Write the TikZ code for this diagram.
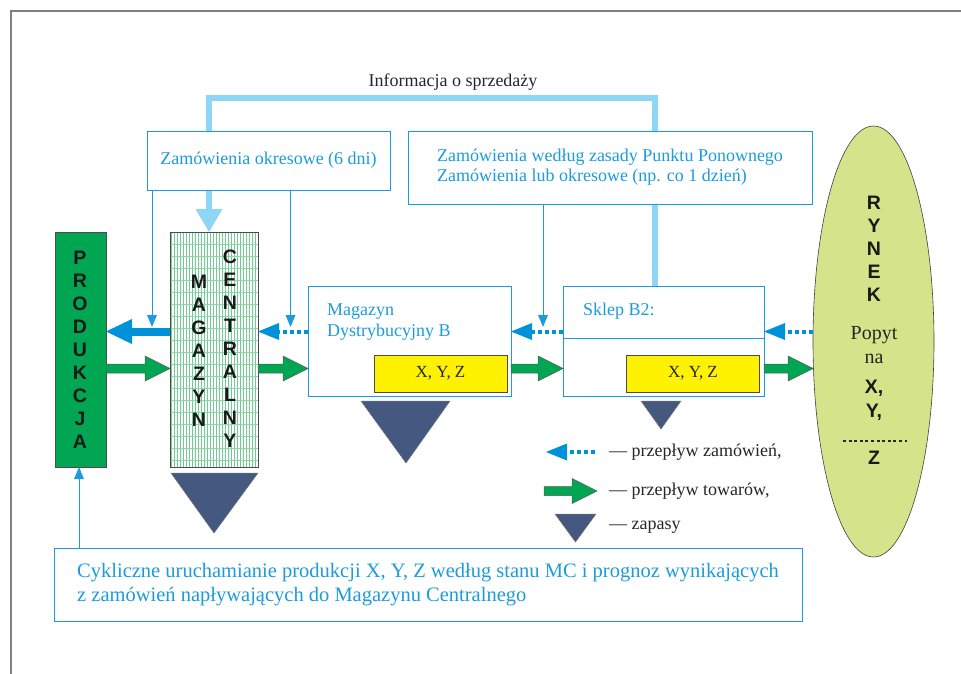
\documentclass[tikz,border=0pt]{standalone}
\usepackage{fontspec}
\setmainfont{Liberation Serif}
\setsansfont{Liberation Sans}
\usetikzlibrary{arrows.meta,calc,shapes.geometric}

\definecolor{infoblue}{RGB}{142,214,246}
\definecolor{boxblue}{RGB}{28,156,220}
\definecolor{ordblue}{RGB}{0,146,216}
\definecolor{goodgreen}{RGB}{0,166,81}
\definecolor{stockblue}{RGB}{68,88,128}
\definecolor{xyzyellow}{RGB}{255,242,0}
\definecolor{rynekgreen}{RGB}{213,228,138}
\definecolor{patgreen}{RGB}{110,205,145}

\begin{document}
\begin{tikzpicture}[
  x=10pt, y=-10pt,
  frame/.style={line width=1.3pt, draw=black!50},
  infobox/.style={draw=boxblue, line width=0.8pt, fill=white, inner sep=0pt, outer sep=0pt},
  boxtext/.style={text=boxblue, font=\fontsize{18}{21}\selectfont},
  label/.style={text=black!85, font=\fontsize{18}{21}\selectfont},
  stack/.style={align=center, font=\sffamily\bfseries\fontsize{19.5}{23}\selectfont, text=black!90},
  xyz/.style={draw=black!70, line width=0.6pt, fill=xyzyellow, inner sep=0pt, outer sep=0pt,
    minimum width=133pt, minimum height=37pt, font=\fontsize{17}{20}\selectfont, text=black!85},
  stock/.style={fill=stockblue, draw=black!55, line width=0.5pt},
  info/.style={line width=5.5pt, draw=infoblue, -{Triangle[length=23pt,width=27pt,line width=0pt]}},
  orderline/.style={line width=0.8pt, draw=boxblue, -{Triangle[length=12pt,width=10pt,line width=0pt]}},
  orderbig/.style={line width=8pt, draw=ordblue, -{Triangle[length=26pt,width=25pt,line width=0pt]}},
  orders/.style={line width=4pt, draw=ordblue, dash pattern=on 4pt off 3pt,
    -{Triangle[length=21pt,width=17pt,line width=0pt]}},
  goods/.style={draw=black!65, fill=goodgreen, line width=0.5pt,
    to path={let \p1=(\tikztostart), \p2=(\tikztotarget) in
      (\x1,\y1+4.5pt) -- (\x2-25pt,\y1+4.5pt) -- (\x2-25pt,\y1+12.5pt) -- (\x2,\y1)
      -- (\x2-25pt,\y1-12.5pt) -- (\x2-25pt,\y1-4.5pt) -- (\x1,\y1-4.5pt) -- cycle}},
]
\useasboundingbox (0,0) rectangle (96.1,67.4);

% Frame
\draw[frame] (96.1,1.1) -- (1.1,1.1) -- (1.1,67.4);

% Rows and turning points
\coordinate (infoL) at (20.9,9.8);
\coordinate (infoR) at (65.5,9.8);
\coordinate (ordrow) at (0,33.15);
\coordinate (goodrow) at (0,36.85);
\coordinate (o1) at (15.2,32.7);
\coordinate (o2) at (29.05,32.7);
\coordinate (o3) at (54.3,32.7);
\coordinate (b1) at (7.9,0);

% Main blocks
\node[draw=black!70, line width=0.6pt, fill=goodgreen, inner sep=0pt, outer sep=0pt,
  minimum width=51pt, minimum height=235pt] (prod) at (8.05,34.95) {};
\node[draw=black!70, line width=0.6pt, fill=white, inner sep=0pt, outer sep=0pt,
  minimum width=88pt, minimum height=235pt,
  path picture={
    \foreach \i in {0,...,29}
      \draw[patgreen, line width=1pt] ([xshift=1.5pt+\i*3pt]path picture bounding box.north west)
        -- ([xshift=1.5pt+\i*3pt]path picture bounding box.south west);
    \foreach \j in {1,...,19}
      \draw[patgreen!80, line width=0.5pt] ([yshift=-\j*12pt]path picture bounding box.north west)
        -- ([yshift=-\j*12pt]path picture bounding box.north east);
  }] (mc) at (21.4,34.95) {};
\node[infobox, minimum width=203pt, minimum height=110pt] (md) at (40.95,34.1) {};
\node[infobox, minimum width=201pt, minimum height=110pt] (sk) at (66.35,34.1) {};
\node[ellipse, draw=black!75, line width=0.6pt, fill=rynekgreen, inner sep=0pt, outer sep=0pt,
  minimum width=121pt, minimum height=431pt] (ry) at (87.35,34.15) {};

% Sales information
\draw[info] (sk.north -| infoR) -- (infoR) -- (infoL) -- (mc.north -| infoL);
\node[label] at (45.3,8.2) {Informacja o sprzedaży};

% Order boxes
\node[infobox, boxtext, minimum width=243pt, minimum height=59pt] (zo) at (26.85,16.05)
  {Zamówienia okresowe (6 dni)};
\node[infobox, boxtext, align=left, minimum width=404pt, minimum height=73pt,
  font=\fontsize{18}{20}\selectfont] (zw) at (61.0,16.75)
  {Zamówienia według zasady Punktu Ponownego\\Zamówienia lub okresowe (np. co 1 dzień)};
\draw[orderline] (zo.south -| o1) -- (o1);
\draw[orderline] (zo.south -| o2) -- (o2);
\draw[orderline] (zw.south -| o3) -- (o3);

% Texts in blocks
\node[stack] at (8.0,34.95) {P\\R\\O\\D\\U\\K\\C\\J\\A};
\node[stack] at (19.9,35.1) {M\\A\\G\\A\\Z\\Y\\N};
\node[stack] at (23.0,34.85) {C\\E\\N\\T\\R\\A\\L\\N\\Y};
\node[boxtext, anchor=west, align=left, inner sep=0pt] at (32.7,32.2) {Magazyn\\Dystrybucyjny B};
\node[boxtext, anchor=west, inner sep=0pt] at (58.3,31.1) {Sklep B2:};
\draw[boxblue, line width=0.8pt] ([yshift=-52pt]sk.north west) -- ([yshift=-52pt]sk.north east);
\node[xyz] (x1) at (44.05,37.35) {X, Y, Z};
\node[xyz] (x2) at (69.3,37.35) {X, Y, Z};

% Market
\node[stack] at (87.4,24.9) {R\\Y\\N\\E\\K};
\node[align=center, text=black!85, font=\fontsize{20}{24}\selectfont] at (87.4,34.5) {Popyt\\na};
\node[stack, font=\sffamily\bfseries\fontsize{19.5}{24}\selectfont] at (87.4,40.0) {X,\\Y,};
\draw[black!85, line width=2.5pt, dash pattern=on 3pt off 2.6pt] (84.3,44.1) -- (90.7,44.1);
\node[stack] at (87.4,45.8) {Z};

% Stocks
\draw[stock] (17.1,47.3) -- (25.8,47.3) -- (21.4,53.3) -- cycle;
\draw[stock] (36.1,40.1) -- (45.0,40.1) -- (40.6,46.3) -- cycle;
\draw[stock] (64.1,40.1) -- (68.1,40.1) -- (66.1,42.9) -- cycle;

% Flows of orders
\draw[orderbig] (mc.west |- ordrow) -- (prod.east |- ordrow);
\draw[orders] (md.west |- ordrow) -- (mc.east |- ordrow);
\draw[orders] (sk.west |- ordrow) -- (md.east |- ordrow);
\draw[orders] (ry.west |- ordrow) -- (sk.east |- ordrow);

% Flows of goods
\draw[goods] (prod.east |- goodrow) to (mc.west |- goodrow);
\draw[goods] (mc.east |- goodrow) to (md.west |- goodrow);
\draw[goods] (md.east |- goodrow) to (sk.west |- goodrow);
\draw[goods] (sk.east |- goodrow) to (ry.west |- goodrow);

% Legend
\draw[orders] (59.5,45.2) -- (54.6,45.2);
\node[label, anchor=west, inner sep=0pt] at (60.9,45.2) {— przepływ zamówień,};
\draw[goods] (54.4,49.1) to (59.7,49.1);
\node[label, anchor=west, inner sep=0pt] at (60.9,49.1) {— przepływ towarów,};
\draw[stock] (55.5,51.4) -- (59.6,51.4) -- (57.55,54.2) -- cycle;
\node[label, anchor=west, inner sep=0pt] at (60.9,52.7) {— zapasy};

% Production start
\node[infobox, boxtext, align=left, minimum width=748pt, minimum height=73pt,
  font=\fontsize{20.5}{24}\selectfont] (bot) at (42.8,58.45)
  {Cykliczne uruchamianie produkcji X, Y, Z według stanu MC i prognoz wynikających\\
   z zamówień napływających do Magazynu Centralnego};
\draw[orderline] (bot.north -| b1) -- (prod.south -| b1);

\end{tikzpicture}
\end{document}
